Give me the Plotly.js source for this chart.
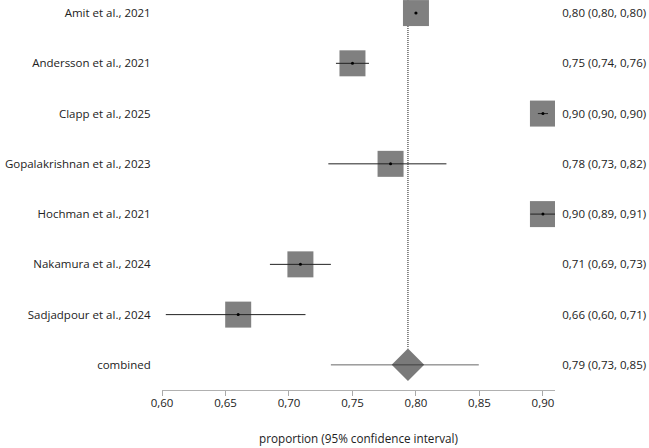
<!DOCTYPE html>
<html><head><meta charset="utf-8">
<script src="https://cdn.plot.ly/plotly-3.0.1.min.js"></script>
<style>html,body{margin:0;padding:0;background:#fff}#c{width:649px;height:448px}</style>
</head><body><div id="c"></div>
<script>
const studies = ["Amit et al., 2021","Andersson et al., 2021","Clapp et al., 2025","Gopalakrishnan et al., 2023","Hochman et al., 2021","Nakamura et al., 2024","Sadjadpour et al., 2024"];
const est = [0.800, 0.750, 0.900, 0.780, 0.900, 0.709, 0.660];
const lo  = [0.799, 0.737, 0.896, 0.731, 0.890, 0.685, 0.603];
const hi  = [0.801, 0.763, 0.904, 0.824, 0.910, 0.733, 0.713];
const labels = ["0,80 (0,80, 0,80)","0,75 (0,74, 0,76)","0,90 (0,90, 0,90)","0,78 (0,73, 0,82)","0,90 (0,89, 0,91)","0,71 (0,69, 0,73)","0,66 (0,60, 0,71)"];
const pooledName = "combined";
const pooled = 0.7937, pooledLo = 0.733, pooledHi = 0.8495;
const pooledLabel = "0,79 (0,73, 0,85)";
const xTicks = [0.60, 0.65, 0.70, 0.75, 0.80, 0.85, 0.90];

const names = studies.concat([pooledName]);
const rightLabels = labels.concat([pooledLabel]);
const rows = names.map((_, i) => i);
const sRows = studies.map((_, i) => i);
const pRow = studies.length;

const ciX = [], ciY = [];
studies.forEach((_, i) => { ciX.push(lo[i], hi[i], null); ciY.push(i, i, null); });

const font = "'Open Sans', 'Noto Sans', sans-serif";
const traces = [
  {x:[pooled,pooled], y:[-0.3, pRow-0.33], mode:'lines', line:{color:'#111', width:1, dash:'1px,1px'}, hoverinfo:'skip', showlegend:false},
  {x:est, y:sRows, mode:'markers', marker:{symbol:'square', size:26, color:'#808080'}, showlegend:false},
  {x:[pooled], y:[pRow], mode:'markers', marker:{symbol:'diamond', size:25, color:'#7a7a7a'}, showlegend:false},
  {x:ciX, y:ciY, mode:'lines', line:{color:'#222', width:1}, showlegend:false},
  {x:[pooledLo, pooledHi], y:[pRow, pRow], mode:'lines', line:{color:'rgba(40,40,40,0.7)', width:1}, showlegend:false},
  {x:est, y:sRows, mode:'markers', marker:{symbol:'circle', size:3, color:'#000'}, showlegend:false},
  {x:[pooled], y:[pRow], yaxis:'y2', mode:'markers', marker:{opacity:0}, showlegend:false, hoverinfo:'skip'}
];
const layout = {
  width:649, height:448,
  margin:{l:162, r:94, t:0, b:58},
  separators:',.',
  paper_bgcolor:'#fff', plot_bgcolor:'#fff',
  font:{family:font, size:11, color:'#222'},
  xaxis:{range:[0.6, 0.9095], tickvals:xTicks, tickformat:'.2f', ticks:'outside', ticklen:5, tickcolor:'#aaa',
         ticklabelstandoff:-3,
         showline:true, linecolor:'#b0b0b0', linewidth:1, showgrid:false, zeroline:false,
         tickfont:{size:11.5, color:'#222'},
         title:{text:'proportion (95% confidence interval)', font:{size:11.7, color:'#222'}, standoff:26}},
  yaxis:{range:[7.5,-0.26], tickvals:rows, ticktext:names, showgrid:false, zeroline:false, showline:false,
         ticks:'outside', ticklen:8, tickcolor:'rgba(0,0,0,0)', tickfont:{size:11.5, color:'#222'}},
  yaxis2:{range:[7.5,-0.26], overlaying:'y', side:'right', tickvals:rows, ticktext:rightLabels, showgrid:false,
          zeroline:false, showline:false, ticks:'outside', ticklen:4, tickcolor:'rgba(0,0,0,0)', tickfont:{size:11.5, color:'#222'}}
};
Plotly.newPlot('c', traces, layout, {displayModeBar:false, staticPlot:true});
</script></body></html>
